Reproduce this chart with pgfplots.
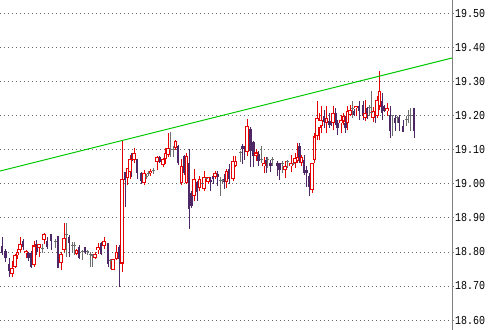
\documentclass[border=0pt]{standalone}
\usepackage{pgfplots}
\pgfplotsset{compat=1.18}
\usepackage{pgfplotstable}
\usepackage{fontspec}
\setmonofont{Liberation Mono}
\definecolor{upred}{RGB}{230,0,0}
\definecolor{dnpurple}{RGB}{78,40,102}
\definecolor{dojigray}{RGB}{110,110,110}
\definecolor{trendgreen}{RGB}{0,200,0}

\pgfplotstableread{
x o h l c
12 18.734 18.772 18.725 18.752
15 18.757 18.795 18.752 18.791
17.5 18.790 18.810 18.780 18.800
20 18.806 18.845 18.801 18.823
26 18.796 18.806 18.783 18.803
34 18.762 18.832 18.757 18.819
39 18.811 18.823 18.786 18.823
44 18.835 18.855 18.823 18.852
61 18.767 18.799 18.747 18.793
64 18.806 18.885 18.801 18.842
76.5 18.795 18.810 18.790 18.805
95 18.783 18.800 18.780 18.795
98 18.805 18.825 18.795 18.815
104 18.817 18.844 18.810 18.831
113 18.746 18.780 18.746 18.780
116.5 18.780 18.820 18.775 18.800
122 18.766 19.128 18.741 19.013
127.5 19.016 19.045 18.996 19.045
130 19.035 19.084 19.013 19.073
134 19.070 19.105 19.060 19.090
144 19.003 19.040 18.997 19.032
150.5 19.032 19.042 19.022 19.039
157 19.064 19.081 19.042 19.079
163 19.054 19.075 19.050 19.072
165.5 19.072 19.106 19.057 19.091
168 19.086 19.150 19.080 19.106
175.5 19.106 19.130 19.100 19.125
181.5 19.003 19.072 18.998 19.052
186.5 19.003 19.091 18.998 19.081
194 18.964 19.043 18.950 19.013
199.5 18.989 19.024 18.979 19.014
204 18.984 19.038 18.979 19.021
208 19.004 19.020 19.000 19.019
215 19.021 19.038 19.015 19.033
226.5 19.004 19.043 18.989 19.038
233 19.014 19.082 19.009 19.068
235.5 19.053 19.082 19.048 19.068
247 19.092 19.190 19.082 19.171
256 19.082 19.102 19.068 19.092
264 19.051 19.080 19.031 19.061
285 19.041 19.066 19.017 19.053
291 19.051 19.085 19.036 19.061
295 19.061 19.090 19.046 19.075
297.5 19.066 19.120 19.061 19.080
301.5 19.061 19.085 19.051 19.080
312 18.982 19.061 18.973 19.061
314.5 19.071 19.149 19.061 19.139
317 19.139 19.242 19.129 19.193
319 19.164 19.208 19.129 19.188
321 19.169 19.227 19.149 19.188
326.5 19.178 19.227 19.149 19.193
333 19.178 19.227 19.159 19.208
341 19.178 19.203 19.149 19.188
343.5 19.183 19.208 19.174 19.198
347.5 19.178 19.227 19.159 19.213
350 19.203 19.232 19.198 19.218
356 19.222 19.229 19.198 19.229
365 19.193 19.247 19.183 19.208
373 19.193 19.227 19.183 19.213
377 19.198 19.257 19.193 19.247
379.5 19.227 19.330 19.218 19.272
387 19.213 19.237 19.198 19.223
}\upcandles

\pgfplotstableread{
x o h l c
2 18.816 18.845 18.790 18.796
5.5 18.803 18.810 18.770 18.783
9 18.764 18.783 18.725 18.744
23 18.832 18.838 18.806 18.813
28.5 18.796 18.801 18.772 18.783
31 18.796 18.803 18.754 18.757
36.5 18.823 18.835 18.791 18.800
47 18.832 18.845 18.810 18.816
51 18.852 18.852 18.806 18.832
58 18.848 18.848 18.754 18.754
69 18.844 18.850 18.785 18.825
79 18.815 18.820 18.780 18.782
85 18.815 18.815 18.795 18.800
101 18.825 18.830 18.790 18.795
108 18.825 18.825 18.756 18.766
119.5 18.815 18.820 18.697 18.780
125 19.035 19.035 18.932 19.011
131.5 19.081 19.090 19.020 19.067
137 19.072 19.072 19.013 19.032
141 19.032 19.035 19.000 19.008
159.5 19.079 19.081 19.060 19.064
178 19.110 19.115 19.055 19.062
184 19.081 19.085 19.025 19.032
189 19.062 19.101 18.866 18.925
191.5 18.974 18.980 18.930 18.934
197 19.004 19.009 18.950 18.975
210.5 19.010 19.019 18.979 19.005
213 19.024 19.024 18.999 19.014
217.5 19.030 19.038 18.994 19.020
224.5 19.014 19.028 18.984 19.004
229 19.043 19.058 18.999 19.014
242 19.112 19.117 19.058 19.102
244.5 19.112 19.112 19.070 19.102
250.5 19.161 19.166 19.048 19.097
253.5 19.122 19.126 19.048 19.082
258.5 19.087 19.097 19.053 19.068
266 19.071 19.080 19.031 19.061
270.5 19.061 19.071 19.036 19.051
277 19.061 19.066 19.022 19.051
279.5 19.061 19.061 19.012 19.041
299.5 19.110 19.120 19.061 19.071
304 19.071 19.085 19.026 19.031
306.5 19.041 19.051 18.992 19.031
309 19.022 19.031 18.963 18.992
324 19.198 19.218 19.164 19.183
329 19.183 19.208 19.164 19.174
331 19.183 19.190 19.170 19.174
335.5 19.208 19.223 19.174 19.178
337.5 19.178 19.188 19.144 19.164
345.5 19.178 19.198 19.149 19.164
354 19.213 19.220 19.200 19.203
359 19.227 19.242 19.188 19.213
363 19.232 19.242 19.188 19.198
367 19.223 19.225 19.190 19.198
375 19.213 19.223 19.178 19.193
382 19.242 19.267 19.188 19.208
384 19.227 19.230 19.210 19.213
390 19.203 19.227 19.134 19.154
395 19.193 19.203 19.154 19.178
399 19.196 19.203 19.154 19.178
403 19.169 19.186 19.152 19.152
414 19.223 19.223 19.134 19.154
}\dncandles

\pgfplotstableread{
x v h l
42 18.810 18.823 18.796
55 18.830 18.838 18.813
66.5 18.851 18.886 18.785
72 18.820 18.830 18.800
74.5 18.820 18.830 18.790
82 18.800 18.805 18.775
87.5 18.800 18.805 18.790
90 18.793 18.800 18.756
92 18.790 18.795 18.756
110 18.775 18.780 18.750
146 19.022 19.030 19.015
148 19.030 19.037 19.022
153 19.040 19.045 19.030
170.5 19.100 19.152 19.080
173 19.100 19.110 19.080
202 19.000 19.014 18.984
206 19.015 19.019 19.004
220.5 19.010 19.019 18.965
222.5 19.009 19.015 19.000
240 19.092 19.097 19.063
261 19.070 19.110 19.061
267.5 19.070 19.080 19.046
272.5 19.070 19.080 19.051
282 19.060 19.066 19.031
287 19.065 19.071 19.046
293 19.060 19.066 19.056
352 19.220 19.242 19.193
369 19.223 19.232 19.198
371 19.210 19.272 19.208
392 19.200 19.203 19.139
397 19.195 19.198 19.178
406 19.190 19.198 19.169
408 19.200 19.217 19.178
410.5 19.200 19.223 19.154
}\dojis

\pgfplotsset{
  candle/.style 2 args={draw=none, mark=none, forget plot,
    error bars/.cd, y dir=both, y explicit, error mark=none,
    error bar style={draw=#1, line width=#2}},
}
\newcommand{\tl}[1]{\scalebox{1}[1.22]{#1}}

\begin{document}
\begin{tikzpicture}
\useasboundingbox (0,0) rectangle (498bp,330bp);
\begin{axis}[
  at={(0,0)}, anchor=south west,
  scale only axis, width=452bp, height=330bp,
  xmin=0, xmax=452, ymin=18.5708, ymax=19.5396,
  axis x line=none, axis y line*=right,
  y axis line style={-, draw=black!50, line width=1bp},
  xtick=\empty,
  ytick={18.6,18.7,18.8,18.9,19.0,19.1,19.2,19.3,19.4,19.5},
  yticklabels={\tl{18.60},\tl{18.70},\tl{18.80},\tl{18.90},\tl{19.00},\tl{19.10},\tl{19.20},\tl{19.30},\tl{19.40},\tl{19.50}},
  ymajorgrids,
  grid style={black!60, line width=0.8bp, dash pattern=on 0.8bp off 3.2bp},
  tick align=outside, major tick length=2bp,
  tick style={black!50, line width=0.8bp},
  yticklabel style={font=\ttfamily\fontsize{10}{12}\selectfont, anchor=west, inner sep=0pt, xshift=1bp},
  clip=true,
]
% doji candles
\addplot[candle={dojigray}{1bp}]
  table[x=x, y expr={(\thisrow{h}+\thisrow{l})/2}, y error expr={(\thisrow{h}-\thisrow{l})/2}] {\dojis};
\addplot[only marks, mark=-, mark size=1.5bp, mark options={draw=dojigray, line width=1bp}, forget plot]
  table[x=x, y=v] {\dojis};
% down candles
\addplot[candle={dnpurple}{1bp}]
  table[x=x, y expr={(\thisrow{h}+\thisrow{l})/2}, y error expr={(\thisrow{h}-\thisrow{l})/2}] {\dncandles};
\addplot[candle={dnpurple}{2.8bp}]
  table[x=x, y expr={(\thisrow{o}+\thisrow{c})/2}, y error expr={abs(\thisrow{o}-\thisrow{c})/2}] {\dncandles};
% up candles (hollow)
\addplot[candle={upred}{1bp}]
  table[x=x, y expr={(\thisrow{h}+\thisrow{l})/2}, y error expr={(\thisrow{h}-\thisrow{l})/2}] {\upcandles};
\addplot[candle={upred}{3.3bp}]
  table[x=x, y expr={(\thisrow{o}+\thisrow{c})/2}, y error expr={abs(\thisrow{c}-\thisrow{o})/2}] {\upcandles};
\addplot[candle={white}{1.2bp}]
  table[x=x, y expr={(\thisrow{o}+\thisrow{c})/2}, y error expr={max(abs(\thisrow{c}-\thisrow{o})/2-0.003,0)}] {\upcandles};
% trend line
\addplot[trendgreen, line width=1bp, mark=none] coordinates {(0,19.0375) (452,19.3693)};
\end{axis}
\end{tikzpicture}
\end{document}
